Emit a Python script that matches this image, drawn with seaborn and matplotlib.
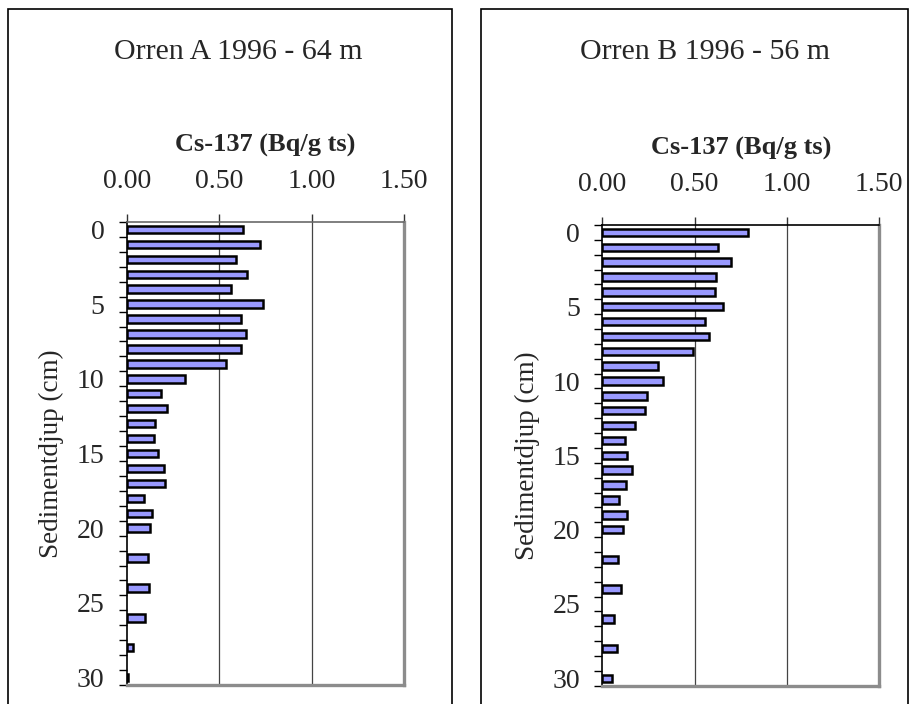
import numpy as np
import pandas as pd
import matplotlib
matplotlib.use("Agg")
import matplotlib.pyplot as plt
from matplotlib.patches import Rectangle
from matplotlib.ticker import FixedLocator, FormatStrFormatter
import seaborn as sns

# depth categories (cm) and Cs-137 activity (Bq/g ts)
depth_a = list(range(0, 21)) + [22, 24, 26, 28, 30]
cs_a = [0.63, 0.72, 0.59, 0.65, 0.565, 0.735, 0.62, 0.645, 0.615, 0.535,
        0.315, 0.185, 0.22, 0.155, 0.145, 0.17, 0.20, 0.205, 0.095, 0.135,
        0.125, 0.115, 0.12, 0.10, 0.035, 0.005]

depth_b = list(range(0, 21)) + [22, 24, 26, 28, 30]
cs_b = [0.79, 0.625, 0.695, 0.615, 0.612, 0.652, 0.556, 0.578, 0.492, 0.30,
        0.328, 0.243, 0.23, 0.177, 0.124, 0.135, 0.16, 0.131, 0.093, 0.133,
        0.112, 0.085, 0.10, 0.063, 0.079, 0.054]

titles = ["Orren A 1996 - 64 m", "Orren B 1996 - 56 m"]
x_ticks = [0.0, 0.5, 1.0, 1.5]
y_labels = [0, 5, 10, 15, 20, 25, 30]

sns.set_style("white")
plt.rcParams['font.family'] = ['Liberation Serif', 'DejaVu Serif']

W, H = 915, 704
fig = plt.figure(figsize=(W / 100, H / 100), dpi=100)

def fx(px):
    return px / W

def fy(py):
    return 1 - py / H

panels = [
    (depth_a, cs_a, titles[0], (126.7, 404.3, 222, 685), 238, 'dimgray'),
    (depth_b, cs_b, titles[1], (602.3, 879.3, 225, 685.7), 705, 'black'),
]
frames = [(8, 452), (481, 908)]

for (x0, x1) in frames:
    fig.patches.append(Rectangle((fx(x0), -0.05), fx(x1) - fx(x0), fy(9) + 0.05,
                                 transform=fig.transFigure, fill=False,
                                 edgecolor='black', linewidth=1.2))

for depth, cs, title, (l, r, t, b), tx, topcol in panels:
    ax = fig.add_axes([fx(l), fy(b), fx(r) - fx(l), fy(t) - fy(b)])
    df = pd.DataFrame({'depth': depth, 'cs': cs})
    sns.barplot(data=df, x='cs', y='depth', orient='h', native_scale=True,
                width=0.5, color='#9999ff', saturation=1,
                edgecolor='black', linewidth=1.8, ax=ax)
    ax.set_xlim(0, 1.5)
    ax.set_ylim(30.5, -0.5)

    for g in x_ticks[1:]:
        ax.axvline(g, color='#444444', linewidth=0.9, zorder=0)

    ax.xaxis.tick_top()
    ax.xaxis.set_label_position('top')
    ax.set_xticks(x_ticks)
    ax.xaxis.set_major_formatter(FormatStrFormatter('%.2f'))
    ax.tick_params(axis='x', direction='out', length=6, width=1,
                   color='#333333', labelsize=20, pad=14.5, top=True, bottom=False)
    ax.set_xlabel('Cs-137 (Bq/g ts)', fontsize=19, fontweight='bold', labelpad=12)

    ax.yaxis.set_major_locator(FixedLocator(y_labels))
    ax.yaxis.set_minor_locator(FixedLocator(np.arange(-0.5, 31, 1)))
    ax.tick_params(axis='y', which='major', length=0, labelsize=20, pad=16, left=True)
    ax.tick_params(axis='y', which='minor', direction='out', length=6, width=1,
                   color='black', left=True)
    ax.set_ylabel('Sedimentdjup (cm)', fontsize=19.5)
    ax.yaxis.set_label_coords(-0.225, 0.5)

    ax.spines['left'].set_color('black')
    ax.spines['left'].set_linewidth(1.2)
    ax.spines['top'].set_color(topcol)
    ax.spines['top'].set_linewidth(1.2)
    for s in ['right', 'bottom']:
        ax.spines[s].set_color('#8c8c8c')
        ax.spines[s].set_linewidth(2.4)

    fig.text(fx(tx), fy(52), title, ha='center', va='center', fontsize=21.5)

fig.savefig('out.png', dpi=100)
